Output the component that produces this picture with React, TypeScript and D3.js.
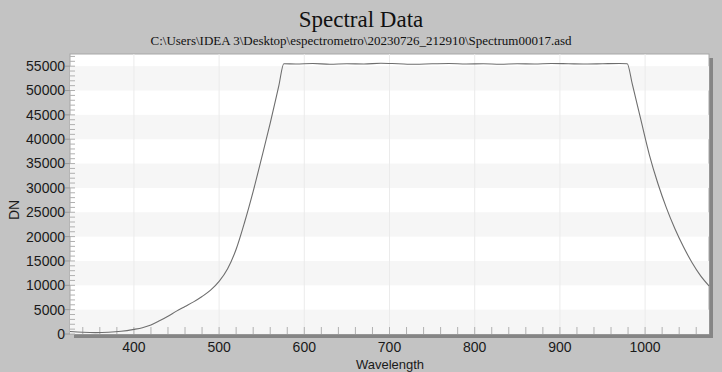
import React from "react";
import * as d3 from "d3";

const wavelengths = [
  325, 340, 355, 370, 385, 400, 410, 420, 430, 440, 450, 460, 470, 480, 490, 500,
  510, 520, 530, 540, 550, 560, 570, 576, 590, 610, 630, 650, 670, 690, 710, 730,
  750, 770, 790, 810, 830, 850, 870, 890, 910, 930, 950, 970, 979, 985, 995, 1005,
  1015, 1025, 1035, 1045, 1055, 1065, 1075,
];
const dnValues = [
  500, 350, 280, 350, 550, 950, 1300, 1850, 2700, 3650, 4700, 5650, 6600, 7700, 9000, 10800,
  13400, 17400, 23000, 29300, 36200, 43300, 50900, 55500, 55450, 55550, 55400, 55500, 55450, 55600, 55500, 55400,
  55500, 55550, 55450, 55500, 55400, 55500, 55450, 55550, 55500, 55450, 55500, 55550, 55500, 51300, 44000, 36800,
  30900, 25900, 21600, 17900, 14700, 12000, 9900,
];
const yTicks = [0, 5000, 10000, 15000, 20000, 25000, 30000, 35000, 40000, 45000, 50000, 55000];
const xTicks = [400, 500, 600, 700, 800, 900, 1000];

const W = 722;
const H = 372;
const plot = { left: 70, right: 709, top: 54, bottom: 334 };

export default function App() {
  const x = d3.scaleLinear().domain([325, 1075]).range([plot.left, plot.right]);
  const y = d3.scaleLinear().domain([0, 57500]).range([plot.bottom, plot.top]);

  const points: [number, number][] = wavelengths.map((w, i) => [w, dnValues[i]]);
  const line = d3
    .line<[number, number]>()
    .x((d) => x(d[0]))
    .y((d) => y(d[1]))
    .curve(d3.curveMonotoneX);

  const minorY = d3.range(0, 57001, 1000);
  const minorX = d3.range(340, 1075, 20);
  const bands = yTicks.filter((_, i) => i % 2 === 0 && i < yTicks.length - 1);

  const sans = "'Liberation Sans', Arial, sans-serif";
  const serif = "'Liberation Serif', 'Times New Roman', serif";
  const pw = plot.right - plot.left;
  const ph = plot.bottom - plot.top;

  return (
    <svg
      width={W}
      height={H}
      style={{ position: "absolute", left: 0, top: 0, display: "block" }}
    >
      <rect width={W} height={H} fill="#c3c3c3" />

      <text x={W / 2} y={27} textAnchor="middle" fontFamily={serif} fontSize={23} fill="#111">
        Spectral Data
      </text>
      <text x={W / 2} y={45} textAnchor="middle" fontFamily={serif} fontSize={13} fill="#111">
        {"C:\\Users\\IDEA 3\\Desktop\\espectrometro\\20230726_212910\\Spectrum00017.asd"}
      </text>

      {/* shadow */}
      <rect x={plot.left + 4} y={plot.top + 4} width={pw} height={ph} fill="#858585" />
      <rect x={plot.left} y={plot.top} width={pw} height={ph} fill="#ffffff" stroke="#a8a8a8" strokeWidth={1} />

      {/* alternating bands */}
      {bands.map((b) => (
        <rect
          key={b}
          x={plot.left}
          y={y(b + 5000)}
          width={pw}
          height={y(b) - y(b + 5000)}
          fill="#f6f6f6"
        />
      ))}

      {/* vertical grid */}
      {xTicks.map((t) => (
        <line key={t} x1={x(t)} x2={x(t)} y1={plot.top} y2={plot.bottom} stroke="#ebebeb" />
      ))}

      {/* y minor ticks inside */}
      {minorY.map((t) => (
        <line key={t} x1={plot.left} x2={plot.left + 5} y1={y(t)} y2={y(t)} stroke="#b0b0b0" />
      ))}
      {/* x minor ticks */}
      {minorX.map((t) => (
        <line key={t} x1={x(t)} x2={x(t)} y1={plot.bottom} y2={plot.bottom - 7} stroke="#b0b0b0" />
      ))}

      <path d={line(points) ?? ""} fill="none" stroke="#6e6e6e" strokeWidth={1.1} />

      {/* y axis */}
      {yTicks.map((t) => (
        <g key={t}>
          <line x1={plot.left - 5} x2={plot.left} y1={y(t)} y2={y(t)} stroke="#9a9a9a" />
          <text
            x={plot.left - 5}
            y={y(t)}
            dy="0.35em"
            textAnchor="end"
            fontFamily={sans}
            fontSize={14}
            fill="#1a1a1a"
          >
            {t}
          </text>
        </g>
      ))}
      {xTicks.map((t) => (
        <text
          key={t}
          x={x(t)}
          y={plot.bottom + 18}
          textAnchor="middle"
          fontFamily={sans}
          fontSize={14}
          fill="#1a1a1a"
        >
          {t}
        </text>
      ))}

      <text
        transform={`translate(19,${(plot.top + plot.bottom) / 2 + 16}) rotate(-90)`}
        textAnchor="middle"
        fontFamily={sans}
        fontSize={14}
        fill="#1a1a1a"
      >
        DN
      </text>
      <text x={390} y={369} textAnchor="middle" fontFamily={sans} fontSize={13} fill="#1a1a1a">
        Wavelength
      </text>
    </svg>
  );
}
